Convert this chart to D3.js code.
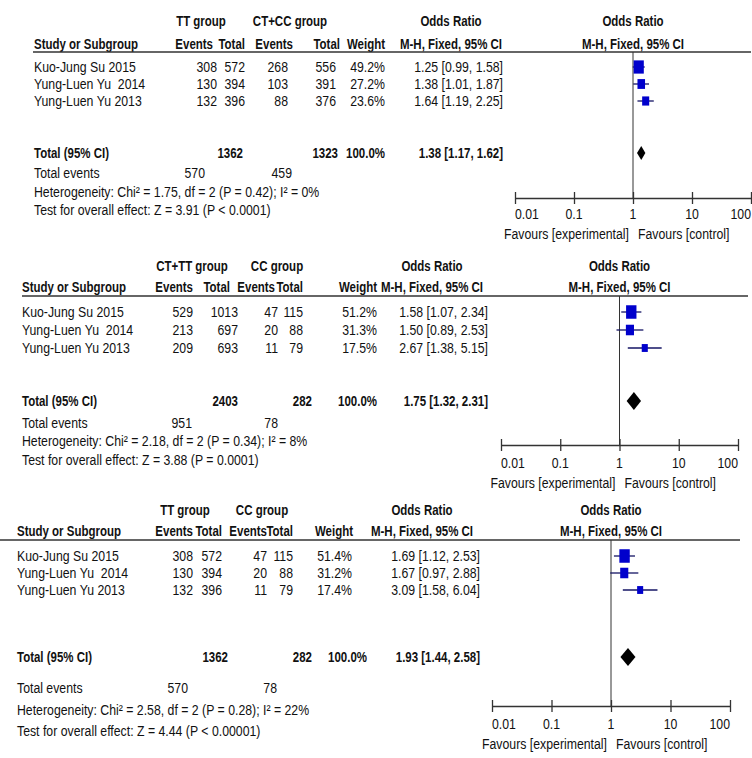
<!DOCTYPE html>
<html>
<head>
<meta charset="utf-8">
<script src="https://cdn.jsdelivr.net/npm/d3@7"></script>
<style>
body { margin: 0; background: #fff; }
svg text { font-family: "Liberation Sans", Arial, sans-serif; font-size: 15px; fill: #111; white-space: pre; }
svg text.b { font-weight: bold; font-size: 14px; }
</style>
</head>
<body>
<svg id="chart" width="752" height="758"></svg>
<script>
// values
const studies = ['Kuo-Jung Su 2015', 'Yung-Luen Yu  2014', 'Yung-Luen Yu 2013']
const groupNames = [['TT group', 'CT+CC group'], ['CT+TT group', 'CC group'], ['TT group', 'CC group']]
const expEvents = [[308, 130, 132], [529, 213, 209], [308, 130, 132]]
const expTotals = [[572, 394, 396], [1013, 697, 693], [572, 394, 396]]
const ctlEvents = [[268, 103, 88], [47, 20, 11], [47, 20, 11]]
const ctlTotals = [[556, 391, 376], [115, 88, 79], [115, 88, 79]]
const weights = [[49.2, 27.2, 23.6], [51.2, 31.3, 17.5], [51.4, 31.2, 17.4]]
const oddsRatios = [[1.25, 1.38, 1.64], [1.58, 1.50, 2.67], [1.69, 1.67, 3.09]]
const ciLow = [[0.99, 1.01, 1.19], [1.07, 0.89, 1.38], [1.12, 0.97, 1.58]]
const ciHigh = [[1.58, 1.87, 2.25], [2.34, 2.53, 5.15], [2.53, 2.88, 6.04]]
const totalN = [[1362, 1323], [2403, 282], [1362, 282]]
const totalEvents = [[570, 459], [951, 78], [570, 78]]
const pooledOR = [1.38, 1.75, 1.93]
const pooledLow = [1.17, 1.32, 1.44]
const pooledHigh = [1.62, 2.31, 2.58]
const heterogeneity = [
	'Heterogeneity: Chi² = 1.75, df = 2 (P = 0.42); I² = 0%',
	'Heterogeneity: Chi² = 2.18, df = 2 (P = 0.34); I² = 8%',
	'Heterogeneity: Chi² = 2.58, df = 2 (P = 0.28); I² = 22%',
]
const overallTests = [
	'Test for overall effect: Z = 3.91 (P < 0.0001)',
	'Test for overall effect: Z = 3.88 (P = 0.0001)',
	'Test for overall effect: Z = 4.44 (P < 0.00001)',
]
const axisTicks = [0.01, 0.1, 1, 10, 100]
const colHeads = ['Events', 'Total', 'Events', 'Total', 'Weight']

// where each panel sits on the page
const layouts = [
	{ studyX: 34, hdrRight: [213, 245, 293, 340, 385], valRight: [217, 245, 288, 336, 385],
		grpX: [201, 290], orX: 451, orRight: 503, hdrY1: 21, hdrY2: 44, lineY: 52, lineX: [33, 751],
		rowY: [67, 84, 101], totY: 153, evY: 173, hetY: 192, testY: 210,
		totRight: [243, 338, 385], evRight: [205, 292], plot: [515, 751], axisY: 198, tickY: 214, favY: 234, dH: 7 },
	{ studyX: 22, hdrRight: [193, 230, 275, 303, 377], valRight: [193, 238, 278, 303, 377],
		grpX: [192, 277], orX: 432, orRight: 488, hdrY1: 266, hdrY2: 287, lineY: 296, lineX: [22, 748],
		rowY: [312, 330, 348], totY: 401, evY: 423, hetY: 441, testY: 460,
		totRight: [238, 312, 377], evRight: [192, 278], plot: [501, 738], axisY: 445, tickY: 463, favY: 483, dH: 9 },
	{ studyX: 17, hdrRight: [193, 222, 267, 293, 353], valRight: [193, 222, 267, 293, 352],
		grpX: [185, 262], orX: 422, orRight: 480, hdrY1: 510, hdrY2: 531, lineY: 540, lineX: [0, 740],
		rowY: [556, 573, 590], totY: 657, evY: 688, hetY: 710, testY: 731,
		totRight: [228, 312, 367], evRight: [188, 277], plot: [492, 730], axisY: 706, tickY: 724, favY: 744, dH: 9 },
]

const svg = d3.select('#chart')
const f2 = d3.format('.2f')
const f1 = d3.format('.1f')
const orText = (o, l, h) => `${f2(o)} [${f2(l)}, ${f2(h)}]`
const NARROW = 0.82 // squeeze Liberation Sans to an Arial Narrow look

function txt(g, x, y, s, anchor, bold) {
	return g.append('text')
		.attr('transform', `translate(${x},${y}) scale(${NARROW},1)`)
		.attr('dy', '0.35em')
		.attr('text-anchor', anchor || 'start')
		.classed('b', !!bold)
		.text(s)
}

function drawPanel(p) {
	const L = layouts[p]
	const g = svg.append('g').attr('class', `panel panel-${p}`)

	const x = d3.scaleLog().domain([0.01, 100]).range(L.plot)
	const cx = x(1)

	// headers
	txt(g, L.grpX[0], L.hdrY1, groupNames[p][0], 'middle', true)
	txt(g, L.grpX[1], L.hdrY1, groupNames[p][1], 'middle', true)
	txt(g, L.orX, L.hdrY1, 'Odds Ratio', 'middle', true)
	txt(g, cx, L.hdrY1, 'Odds Ratio', 'middle', true)
	txt(g, L.studyX, L.hdrY2, 'Study or Subgroup', 'start', true)
	colHeads.forEach((h, i) => txt(g, L.hdrRight[i], L.hdrY2, h, 'end', true))
	txt(g, L.orX, L.hdrY2, 'M-H, Fixed, 95% CI', 'middle', true)
	txt(g, cx, L.hdrY2, 'M-H, Fixed, 95% CI', 'middle', true)

	g.append('line')
		.attr('x1', L.lineX[0]).attr('x2', L.lineX[1])
		.attr('y1', L.lineY).attr('y2', L.lineY)
		.attr('stroke', '#333').attr('stroke-width', 1.5)

	// study rows
	studies.forEach((s, i) => {
		const y = L.rowY[i]
		txt(g, L.studyX, y, s)
		const vals = [expEvents[p][i], expTotals[p][i], ctlEvents[p][i], ctlTotals[p][i], f1(weights[p][i]) + '%']
		vals.forEach((v, j) => txt(g, L.valRight[j], y, String(v), 'end'))
		txt(g, L.orRight, y, orText(oddsRatios[p][i], ciLow[p][i], ciHigh[p][i]), 'end')
	})

	// totals
	txt(g, L.studyX, L.totY, 'Total (95% CI)', 'start', true)
	txt(g, L.totRight[0], L.totY, String(totalN[p][0]), 'end', true)
	txt(g, L.totRight[1], L.totY, String(totalN[p][1]), 'end', true)
	txt(g, L.totRight[2], L.totY, '100.0%', 'end', true)
	txt(g, L.orRight, L.totY, orText(pooledOR[p], pooledLow[p], pooledHigh[p]), 'end', true)
	txt(g, L.studyX, L.evY, 'Total events')
	txt(g, L.evRight[0], L.evY, String(totalEvents[p][0]), 'end')
	txt(g, L.evRight[1], L.evY, String(totalEvents[p][1]), 'end')
	txt(g, L.studyX, L.hetY, heterogeneity[p])
	txt(g, L.studyX, L.testY, overallTests[p])

	// line of no effect
	g.append('line')
		.attr('x1', cx).attr('x2', cx)
		.attr('y1', L.lineY).attr('y2', L.axisY)
		.attr('stroke', '#333').attr('stroke-width', 1)

	// CIs and boxes
	studies.forEach((s, i) => {
		const y = L.rowY[i]
		g.append('line')
			.attr('x1', x(ciLow[p][i])).attr('x2', x(ciHigh[p][i]))
			.attr('y1', y).attr('y2', y)
			.attr('stroke', '#141464').attr('stroke-width', 1.3)
		const w = Math.max(4, 1.45 * Math.sqrt(weights[p][i]))
		const h = w * 1.3
		g.append('rect')
			.attr('x', x(oddsRatios[p][i]) - w / 2).attr('y', y - h / 2)
			.attr('width', w).attr('height', h)
			.attr('fill', '#0000cc')
	})

	// pooled diamond
	const dy = L.totY
	g.append('path')
		.attr('d', `M${x(pooledLow[p])},${dy} L${x(pooledOR[p])},${dy - L.dH} L${x(pooledHigh[p])},${dy} L${x(pooledOR[p])},${dy + L.dH} Z`)
		.attr('fill', '#000')

	// axis
	const axis = d3.axisBottom(x)
		.tickValues(axisTicks)
		.tickSizeOuter(0)
		.tickSizeInner(6)
		.tickFormat(d => String(d))
	const ax = g.append('g')
		.attr('transform', `translate(0,${L.axisY})`)
		.call(axis)
	ax.select('.domain').attr('stroke', '#333').attr('stroke-width', 1.3)
	ax.selectAll('.tick line').attr('y1', -6).attr('y2', 6).attr('stroke', '#333').attr('stroke-width', 1.3)
	ax.selectAll('.tick text').remove()
	axisTicks.forEach((t, i) => {
		const anchor = i === 0 ? 'start' : i === axisTicks.length - 1 ? 'end' : 'middle'
		txt(g, x(t), L.tickY, String(t), anchor)
	})
	txt(g, cx - 4, L.favY, 'Favours [experimental]', 'end')
	txt(g, cx + 5, L.favY, 'Favours [control]', 'start')
}

[0, 1, 2].forEach(drawPanel)
</script>
</body>
</html>
